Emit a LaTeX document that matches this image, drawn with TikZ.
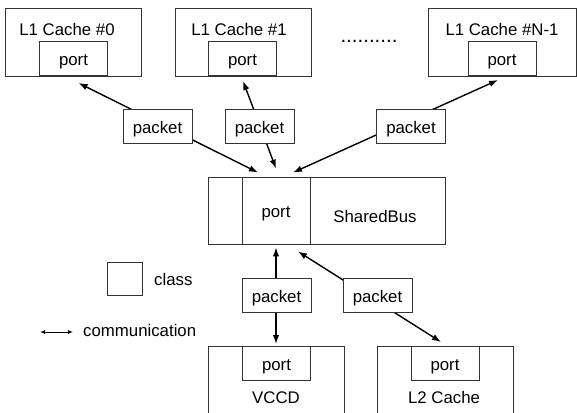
\documentclass[tikz,border=0pt]{standalone}
\usepackage{fontspec}
\setmainfont{Liberation Sans}
\usepackage{xcolor}
\definecolor{boxGray}{rgb}{0.2, 0.2, 0.2}
\usetikzlibrary{arrows.meta}

\tikzset{
	classbox/.style={draw=boxGray, line width=0.9pt, minimum width=136pt, minimum height=68pt, inner sep=0pt},
	portbox/.style={draw=boxGray, fill=white, line width=0.9pt, minimum width=68pt, minimum height=34pt, inner sep=0pt, text height=14pt, text depth=0pt},
	packetbox/.style={portbox, minimum width=69pt},
	title/.style={inner sep=0pt, anchor=base},
	comm/.style={{Latex[length=9pt,width=6.5pt]}-{Latex[length=9pt,width=6.5pt]}, line width=1.4pt},
	commkey/.style={{Latex[length=5pt,width=4pt]}-{Latex[length=5pt,width=4pt]}, line width=0.9pt},
}

\begin{document}
\begin{tikzpicture}[x=1pt, y=-1pt, font=\fontsize{16.8}{20}\selectfont]
			\useasboundingbox (0,0) rectangle (577,412);
			\clip (0,0) rectangle (577,412);

			% L1 caches on top
			\node[classbox] (c0) at (73,42) {};
			\node[classbox] (c1) at (243,42) {};
			\node[classbox, minimum width=148pt] (c2) at (502,42) {};
			\node[title] at (67,36) {L1 Cache \#0};
			\node[title] at (239,36) {L1 Cache \#1};
			\node[title] at (502,36) {L1 Cache \#N-1};
			\node[portbox, anchor=south] (p0) at (73.5,76) {port};
			\node[portbox, anchor=south] (p1) at (242.5,76) {port};
			\node[portbox, anchor=south] (p2) at (502,76) {port};
			\node[title, font=\fontsize{20.5}{20}\selectfont] (dots) at (369,43) {..........};

			% SharedBus with its port
			\node[classbox, minimum width=237pt, minimum height=67pt] (bus) at (326.5,210.5) {};
			\node[portbox, minimum height=67pt] (bp) at (276,210.5) {port};
			\node[title] at (375,222) {SharedBus};

			% VCCD and L2 cache below
			\node[classbox] (vccd) at (276,380) {};
			\node[classbox] (l2) at (445,380) {};
			\node[portbox, anchor=north] (vp) at (276.5,346) {port};
			\node[portbox, anchor=north] (l2p) at (445,346) {port};
			\node[title] at (276,403) {VCCD};
			\node[title] at (444,403) {L2 Cache};

			% Draw communications
			\draw[comm] ([shift={(5,7)}]p0.south) -- ([shift={(-18,-4)}]bp.north);
			\draw[comm] ([shift={(0.5,5)}]p1.south) -- ([shift={(0,-8)}]bp.north);
			\draw[comm] ([shift={(-4,4)}]p2.south) -- ([shift={(17,-4)}]bp.north);
			\draw[comm] ([shift={(0,3)}]bp.south) -- ([shift={(-0.5,-2)}]vp.north);
			\draw[comm] ([shift={(22,7)}]bp.south) -- ([shift={(-4,-4)}]l2p.north);

			% Packets on the links
			\node[packetbox] (pk0) at (157.5,126) {packet};
			\node[packetbox] (pk1) at (259.5,126) {packet};
			\node[packetbox] (pk2) at (411,126) {packet};
			\node[packetbox] (pk3) at (276.5,295) {packet};
			\node[packetbox] (pk4) at (377.5,295) {packet};

			% Key
			\node[draw=boxGray, line width=0.9pt, minimum width=35pt, minimum height=33pt] (key) at (124.5,278.5) {};
			\node[title, anchor=base west] (keytxt) at (154,285) {class};
			\coordinate (kl) at (40,332);
			\coordinate (kr) at (73,332);
			\draw[commkey] (kl) -- (kr);
			\node[title, anchor=base west] (commtxt) at (83,336) {communication};
		\end{tikzpicture}
\end{document}
